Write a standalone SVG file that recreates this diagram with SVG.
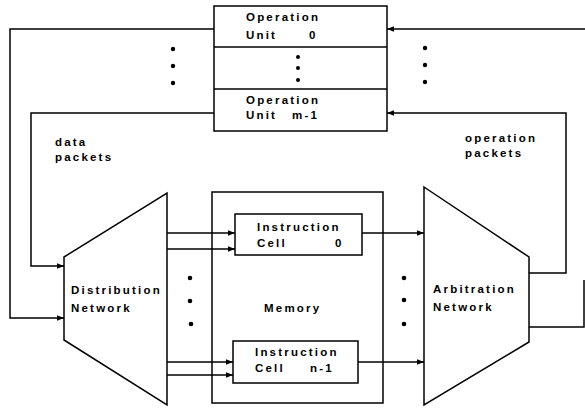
<svg xmlns="http://www.w3.org/2000/svg" width="585" height="410" viewBox="0 0 585 410">
  <style>
    .box { fill: #fff; stroke: #000; stroke-width: 1.5; }
    .frame { fill: none; stroke: #000; stroke-width: 1.5; }
    .wire { fill: none; stroke: #000; stroke-width: 1.5; }
    .arr { marker-end: url(#head); }
    .lbl { font-family: "Liberation Sans", Arial, sans-serif; font-size: 11.5px; font-weight: bold; letter-spacing: 2.2px; fill: #000; }
    .dot { fill: #000; }
  </style>
  <defs>
    <marker id="head" viewBox="0 0 10 10" refX="10" refY="5" markerWidth="7" markerHeight="7" markerUnits="userSpaceOnUse" orient="auto">
      <path d="M0 1 L10 5 L0 9 Z" fill="#000"/>
    </marker>
  </defs>

  <rect width="585" height="410" fill="#fff"/>

  <!-- memory outline (transparent so wires pass through its border) -->
  <g id="memory">
    <rect class="frame" x="212" y="192" width="171" height="211"/>
    <text class="lbl" x="264" y="312">Memory</text>
  </g>

  <!-- connectors -->
  <g id="connectors">
    <path class="wire arr" d="M214 29 H10 V318 H64"/>
    <path class="wire arr" d="M214 113 H31 V266 H64"/>
    <path class="wire arr" d="M167 233 H235"/>
    <path class="wire arr" d="M167 249 H235"/>
    <path class="wire arr" d="M167 362 H233"/>
    <path class="wire arr" d="M167 375 H233"/>
    <path class="wire arr" d="M362 233 H424"/>
    <path class="wire arr" d="M358 362 H424"/>
    <path class="wire arr" d="M529 273 H566 V113 H387"/>
    <path class="wire arr" d="M585 29 H387"/>
    <path class="wire" d="M529 327 H584 V280"/>
  </g>

  <!-- operation unit stack -->
  <g id="operation-units">
    <rect class="box" x="214" y="6" width="173" height="125"/>
    <line class="wire" x1="214" y1="47" x2="387" y2="47"/>
    <line class="wire" x1="214" y1="89" x2="387" y2="89"/>
    <text class="lbl" x="246" y="21">Operation</text>
    <text class="lbl" x="246" y="39">Unit<tspan x="309">0</tspan></text>
    <circle class="dot" cx="298" cy="57" r="2"/>
    <circle class="dot" cx="298" cy="68" r="2"/>
    <circle class="dot" cx="298" cy="80" r="2"/>
    <text class="lbl" x="246" y="104">Operation</text>
    <text class="lbl" x="246" y="119">Unit<tspan x="292">m-1</tspan></text>
  </g>

  <!-- ellipses beside the stack -->
  <g id="stack-dots">
    <circle class="dot" cx="173" cy="49" r="2.2"/>
    <circle class="dot" cx="173" cy="66" r="2.2"/>
    <circle class="dot" cx="173" cy="83" r="2.2"/>
    <circle class="dot" cx="425" cy="48" r="2.2"/>
    <circle class="dot" cx="425" cy="65" r="2.2"/>
    <circle class="dot" cx="425" cy="82" r="2.2"/>
  </g>

  <g id="data-packets-label">
    <text class="lbl" x="55" y="146">data</text>
    <text class="lbl" x="55" y="161">packets</text>
  </g>
  <g id="operation-packets-label">
    <text class="lbl" x="465" y="142">operation</text>
    <text class="lbl" x="465" y="157">packets</text>
  </g>

  <!-- distribution network -->
  <g id="distribution-network">
    <polygon class="box" points="64,257 167,193 167,405 64,340"/>
    <text class="lbl" x="71" y="294">Distribution</text>
    <text class="lbl" x="71" y="312">Network</text>
  </g>

  <!-- instruction cells -->
  <g id="instruction-cell-0">
    <rect class="box" x="235" y="214" width="127" height="41"/>
    <text class="lbl" x="257" y="231">Instruction</text>
    <text class="lbl" x="257" y="247">Cell<tspan x="335">0</tspan></text>
  </g>
  <g id="instruction-cell-n-1">
    <rect class="box" x="233" y="341" width="125" height="42"/>
    <text class="lbl" x="255" y="356">Instruction</text>
    <text class="lbl" x="255" y="372">Cell<tspan x="310">n-1</tspan></text>
  </g>

  <g id="memory-dots">
    <circle class="dot" cx="190" cy="278" r="2.3"/>
    <circle class="dot" cx="190" cy="301" r="2.3"/>
    <circle class="dot" cx="191" cy="324" r="2.3"/>
    <circle class="dot" cx="404" cy="278" r="2.3"/>
    <circle class="dot" cx="404" cy="300" r="2.3"/>
    <circle class="dot" cx="404" cy="324" r="2.3"/>
  </g>

  <!-- arbitration network -->
  <g id="arbitration-network">
    <polygon class="box" points="424,187 529,257 529,342 424,405"/>
    <text class="lbl" x="433" y="293">Arbitration</text>
    <text class="lbl" x="433" y="311">Network</text>
  </g>
</svg>
